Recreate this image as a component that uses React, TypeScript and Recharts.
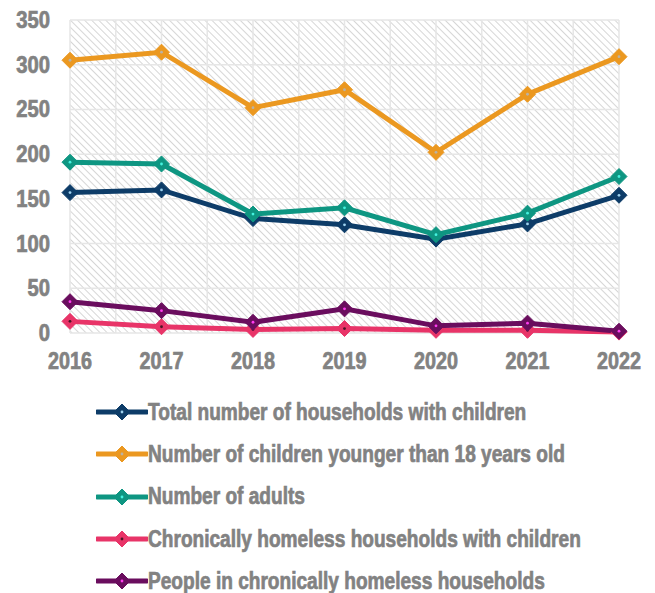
import { LineChart, Line, XAxis, YAxis, CartesianGrid } from "recharts";

const years = [2016, 2017, 2018, 2019, 2020, 2021, 2022];
const households = [157, 160, 128, 121, 105, 122, 154];
const children = [305, 314, 252, 272, 202, 267, 309];
const adults = [191, 189, 133, 140, 110, 134, 175];
const chronicHouseholds = [13, 7, 4, 5, 3, 3, 1];
const chronicPeople = [35, 25, 12, 27, 8, 11, 2];
const yTicks = [0, 50, 100, 150, 200, 250, 300, 350];
const gridYears = [2016, 2016.5, 2017, 2017.5, 2018, 2018.5, 2019, 2019.5, 2020, 2020.5, 2021, 2021.5, 2022];

const series = [
  { key: "households", name: "Total number of households with children", color: "#0d3c68", dot: "#9fd3f0" },
  { key: "children", name: "Number of children younger than 18 years old", color: "#eb9820", dot: "#b9b2a6" },
  { key: "adults", name: "Number of adults", color: "#0e9682", dot: "#45f2df" },
  { key: "chronicHouseholds", name: "Chronically homeless households with children", color: "#e83468", dot: "#4a1424" },
  { key: "chronicPeople", name: "People in chronically homeless households", color: "#6a0d5e", dot: "#ff3cf0" },
];

const data = years.map((year, i) => ({
  year,
  households: households[i],
  children: children[i],
  adults: adults[i],
  chronicHouseholds: chronicHouseholds[i],
  chronicPeople: chronicPeople[i],
}));

const FONT = "'Liberation Sans', Arial, sans-serif";
const GRAY = "#828282";

function Diamond(props: any) {
  const { cx, cy, color, inner } = props;
  if (cx == null || cy == null) return null;
  const r = 8;
  return (
    <g>
      <polygon points={`${cx},${cy - r} ${cx + r},${cy} ${cx},${cy + r} ${cx - r},${cy}`} fill={color} stroke={color} strokeWidth={1} strokeLinejoin="round" />
      <circle cx={cx} cy={cy} r={1.4} fill={inner} />
    </g>
  );
}

function XTick({ x, y, payload }: any) {
  return (
    <g transform={`translate(${x},${y})`}>
      <text transform="scale(0.86,1)" textAnchor="middle" dy={8} fill={GRAY} stroke={GRAY} strokeWidth={0.7} fontSize={23} fontWeight={700} fontFamily={FONT}>
        {payload.value}
      </text>
    </g>
  );
}

function YTick({ x, y, payload }: any) {
  return (
    <g transform={`translate(${x},${y})`}>
      <text transform="scale(0.88,1)" textAnchor="end" dy={8} fill={GRAY} stroke={GRAY} strokeWidth={0.7} fontSize={23} fontWeight={700} fontFamily={FONT}>
        {payload.value}
      </text>
    </g>
  );
}

export default function App() {
  return (
    <div style={{ position: "absolute", left: 0, top: 0, width: 655, height: 593, background: "#fff", fontFamily: FONT }}>
      <LineChart width={655} height={385} data={data} margin={{ top: 20, right: 36, left: 0, bottom: 7 }}>
        <defs>
          <pattern id="hatch" width="5" height="5" patternUnits="userSpaceOnUse" patternTransform="rotate(-45)">
            <rect width="5" height="5" fill="#ffffff" />
            <line x1="0" y1="0" x2="0" y2="5" stroke="#d6d6d6" strokeWidth="2" />
          </pattern>
        </defs>
        <CartesianGrid fill="url(#hatch)" stroke="#e6e6e6" strokeWidth={1.5} verticalValues={gridYears} />
        <XAxis
          dataKey="year"
          type="number"
          domain={[2016, 2022]}
          ticks={years}
          axisLine={false}
          tickLine={false}
          tickSize={0}
          tickMargin={28}
          height={45}
          tick={<XTick />}
        />
        <YAxis
          domain={[0, 350]}
          ticks={yTicks}
          axisLine={false}
          tickLine={false}
          tickSize={0}
          tickMargin={20}
          width={70}
          tick={<YTick />}
        />
        {series.map((s) => (
          <Line
            key={s.key}
            dataKey={s.key}
            name={s.name}
            stroke={s.color}
            strokeWidth={5}
            dot={<Diamond color={s.color} inner={s.dot} />}
            activeDot={false}
            isAnimationActive={false}
          />
        ))}
      </LineChart>
      <div style={{ position: "absolute", left: 96, top: 391 }}>
        {series.map((s) => (
          <div key={s.key} style={{ display: "flex", alignItems: "center", height: 42.3 }}>
            <svg width={52} height={20}>
              <line x1={1} y1={10} x2={51} y2={10} stroke={s.color} strokeWidth={5} strokeLinecap="round" />
              <Diamond cx={26} cy={10} color={s.color} inner={s.dot} />
            </svg>
            <span
              style={{
                color: GRAY,
                fontSize: 23,
                fontWeight: 700,
                whiteSpace: "nowrap",
                display: "inline-block",
                WebkitTextStroke: "0.7px " + GRAY,
                transform: "scaleX(0.83)",
                transformOrigin: "left center",
              }}
            >
              {s.name}
            </span>
          </div>
        ))}
      </div>
    </div>
  );
}
